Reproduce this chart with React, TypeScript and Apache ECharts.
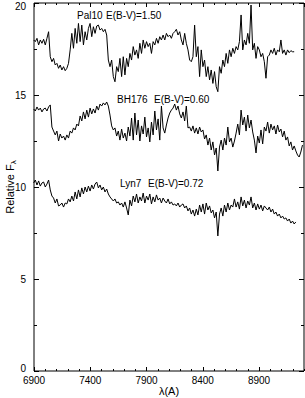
import React, { useEffect, useRef } from "react";
import * as echarts from "echarts";

const LAMBDA_START = 6897;
const LAMBDA_STEP = 14.75;

const X_MIN = 6900;
const X_MAX = 9300;
const Y_MIN = 0;
const Y_MAX = 20;

const pal10 = [
  17.99, 17.9, 18.08, 17.72, 17.99, 17.81, 18.03, 17.72, 18.08, 18.44,
  17.08, 16.81, 16.99, 16.63, 16.72, 16.45, 16.63, 16.36, 16.54, 16.32,
  16.45, 16.72, 17.45, 18.35, 17.54, 18.62, 17.81, 18.89, 17.9, 18.8,
  17.72, 18.44, 17.99, 18.62, 18.89, 18.17, 18.71, 18.35, 18.75, 18.8,
  18.53, 18.62, 18.44, 18.57, 18.26, 16.9, 16.54, 16.9, 16.0, 15.72,
  16.54, 16.27, 16.99, 16.0, 17.08, 16.09, 16.99, 16.54, 17.26, 16.9,
  17.63, 17.17, 17.45, 16.99, 17.81, 17.26, 17.99, 17.54, 17.9, 17.63,
  17.81, 17.26, 17.9, 17.72, 18.08, 17.81, 18.17, 17.99, 18.26, 17.99,
  18.35, 18.17, 18.26, 18.08, 18.35, 18.44, 18.57, 18.26, 18.44, 17.99,
  17.72, 18.35, 17.81, 17.45, 16.9, 16.81, 17.08, 18.8, 17.08, 17.63,
  16.0, 17.45, 16.54, 16.9, 16.0, 16.54, 15.82, 16.36, 15.63, 16.27,
  15.45, 15.18, 16.54, 16.18, 16.9, 16.54, 17.26, 16.72, 17.45, 17.08,
  17.54, 17.26, 17.63, 17.45, 17.9, 19.35, 17.45, 17.99, 17.72, 18.35,
  17.81, 19.89, 17.45, 17.81, 16.99, 17.63, 17.45, 17.08, 17.26, 16.81,
  15.91, 17.08, 17.17, 17.45, 17.26, 17.54, 17.17, 17.45, 17.35, 17.99,
  17.26, 17.45, 17.17, 17.45, 17.3, 17.41, 17.35, 17.35,
];

const bh176 = [
  14.24, 14.13, 14.35, 14.18, 14.29, 14.08, 14.24, 14.29, 14.13, 14.35,
  14.46, 13.26, 13.04, 12.83, 13.04, 12.5, 12.88, 12.66, 12.77, 12.55,
  12.83, 12.66, 13.04, 12.93, 13.21, 13.1, 13.42, 13.32, 13.86, 13.59,
  14.08, 13.7, 14.18, 13.8, 14.29, 13.97, 14.24, 14.02, 14.4, 14.18,
  14.51, 14.4, 14.57, 14.46, 14.62, 14.4, 13.91, 13.32, 13.1, 13.21,
  12.77, 13.04, 12.55, 13.15, 12.66, 12.93, 12.5, 13.26, 12.77, 13.75,
  12.55, 14.02, 12.83, 13.64, 12.5, 13.32, 12.88, 13.8, 12.72, 13.21,
  12.45, 13.53, 12.83, 14.13, 13.1, 13.7, 12.55, 14.4, 13.21, 12.93,
  13.37, 13.75, 14.02, 14.18, 14.29, 14.51, 14.18, 14.4, 13.97, 13.75,
  14.08, 13.59, 14.4, 13.21, 13.26, 13.04, 13.32, 12.93, 13.21, 12.88,
  13.26, 12.99, 13.1, 12.61, 12.83, 12.28, 12.66, 12.01, 12.45, 11.74,
  12.12, 10.87, 12.17, 12.55, 12.01, 12.66, 12.28, 13.26, 12.45, 12.66,
  12.17, 12.5, 12.93, 13.42, 12.83, 14.18, 13.37, 13.8, 13.04, 13.91,
  13.21, 13.64, 12.99, 12.55, 11.85, 12.77, 12.39, 13.1, 12.34, 13.26,
  13.04, 13.53, 12.93, 13.42, 13.1, 13.32, 12.88, 13.37, 12.99, 13.15,
  12.72, 13.04, 12.55, 12.72, 12.23, 12.45, 12.01, 12.23, 11.96, 11.74,
  11.63, 11.9, 12.28,
];

const lyn7 = [
  10.22, 10.38, 10.11, 10.33, 10.05, 10.22, 10.27, 10.0, 10.16, 10.38,
  9.84, 9.51, 9.4, 9.13, 9.35, 8.97, 9.02, 9.13, 8.91, 9.13,
  9.08, 9.35, 9.19, 9.51, 9.24, 9.73, 9.35, 9.84, 9.46, 9.95,
  9.62, 10.0, 9.73, 10.05, 9.78, 10.11, 9.89, 10.16, 10.27, 9.95,
  10.11, 9.84, 10.0, 9.73, 9.89, 9.62, 9.46, 9.35, 9.24, 9.35,
  9.13, 9.19, 9.02, 9.13, 8.91, 9.19, 8.86, 8.48, 9.29, 8.97,
  9.51, 9.19, 9.62, 9.13, 9.46, 9.24, 9.67, 9.13, 9.51, 9.29,
  9.62, 9.08, 9.46, 9.19, 9.57, 9.29, 9.4, 9.13, 9.4, 9.24,
  9.13, 9.35, 9.08, 9.19, 9.02, 9.08, 8.97, 9.13, 8.91, 9.02,
  9.08, 8.86, 8.97, 8.7, 8.86, 8.53, 8.75, 8.42, 8.8, 8.48,
  9.02, 8.64, 9.08, 8.53, 9.13, 8.75, 8.97, 8.59, 8.75, 8.32,
  8.64, 7.34, 8.53, 8.86, 8.42, 9.02, 8.64, 9.13, 8.75, 9.02,
  8.91, 9.35, 8.91, 9.19, 8.8, 9.46, 8.97, 9.29, 8.86, 9.24,
  9.02, 9.46, 8.86, 9.13, 8.75, 9.08, 8.8, 9.02, 8.7, 8.97,
  8.86, 8.75, 8.91, 8.64, 8.8, 8.53, 8.64, 8.42, 8.53, 8.32,
  8.42, 8.26, 8.32, 8.15, 8.26, 8.04, 8.15, 7.99, 8.1,
];

const xTicks = ["6900", "7400", "7900", "8400", "8900"];
const yTicks = ["0", "5", "10", "15", "20"];

const FONT = "'Liberation Sans', Arial, Helvetica, sans-serif";

function toPairs(values: number[]): [number, number][] {
  return values.map((v, i) => [LAMBDA_START + i * LAMBDA_STEP, v]);
}

export default function App() {
  const ref = useRef<HTMLDivElement>(null);

  useEffect(() => {
    if (!ref.current) return;
    const chart = echarts.init(ref.current, null, { renderer: "svg" });

    const black = "#000";
    const xBase = {
      type: "value" as const,
      min: X_MIN,
      max: X_MAX,
      splitLine: { show: false },
      axisLine: { show: false },
    };
    const yBase = {
      type: "value" as const,
      min: Y_MIN,
      max: Y_MAX,
      interval: 5,
      splitLine: { show: false },
      axisLine: { show: false },
      axisTick: { inside: true, length: 5, lineStyle: { color: black, width: 1 } },
      minorTick: { show: true, splitNumber: 2, length: 3, lineStyle: { color: black, width: 1 } },
    };

    const annText = (x: number, y: number, text: string) => ({
      type: "text",
      x,
      y,
      silent: true,
      style: {
        text,
        fill: black,
        font: `10px ${FONT}`,
        verticalAlign: "middle",
        align: "left",
      },
    });

    chart.setOption({
      animation: false,
      backgroundColor: "#fff",
      grid: {
        left: 34,
        right: 1,
        top: 3,
        bottom: 27,
        containLabel: false,
        outerBoundsMode: "none",
        show: true,
        borderColor: black,
        borderWidth: 1,
        backgroundColor: "transparent",
      },
      xAxis: [
        {
          ...xBase,
          position: "bottom",
          interval: 500,
          axisTick: { inside: true, length: 4, lineStyle: { color: black } },
          axisLabel: {
            color: black,
            fontSize: 10,
            fontFamily: FONT,
            margin: 4,
            showMaxLabel: false,
            formatter: (v: number) => {
              const s = String(Math.round(v));
              return xTicks.includes(s) ? s : "";
            },
          },
          name: "λ(A)",
          nameLocation: "middle",
          nameGap: 14,
          nameMoveOverlap: false,
          nameTextStyle: { color: black, fontSize: 11, fontFamily: FONT },
        },
        {
          ...xBase,
          position: "bottom",
          interval: 100,
          axisTick: { inside: true, length: 2, lineStyle: { color: black } },
          axisLabel: { show: false },
        },
        {
          ...xBase,
          position: "top",
          interval: 500,
          axisTick: { inside: true, length: 4, lineStyle: { color: black } },
          axisLabel: { show: false },
        },
        {
          ...xBase,
          position: "top",
          interval: 100,
          axisTick: { inside: true, length: 2, lineStyle: { color: black } },
          axisLabel: { show: false },
        },
      ],
      yAxis: [
        {
          ...yBase,
          position: "left",
          axisLabel: {
            color: black,
            fontSize: 10,
            fontFamily: FONT,
            margin: 8,
            formatter: (v: number) => {
              const s = String(Math.round(v));
              if (!yTicks.includes(s)) return "";
              if (s === "0") return "{z|0}";
              if (s === "20") return "{t|20}";
              return s;
            },
            rich: {
              z: { fontSize: 10, fontFamily: FONT, color: black, padding: [0, 0, 5, 0] },
              t: { fontSize: 10, fontFamily: FONT, color: black, padding: [6, 0, 0, 0] },
            },
          },
          name: "{a|Relative F}{s|λ}",
          nameLocation: "middle",
          nameGap: 17,
          nameMoveOverlap: false,
          nameTextStyle: {
            color: black,
            rich: {
              a: { fontSize: 11, fontFamily: FONT, color: black, verticalAlign: "middle" },
              s: { fontSize: 8, fontFamily: FONT, color: black, verticalAlign: "middle", padding: [6, 0, 0, 0] },
            },
          },
        },
        {
          ...yBase,
          position: "right",
          axisLabel: { show: false },
        },
      ],
      series: [
        { name: "Pal10", data: toPairs(pal10) },
        { name: "BH176", data: toPairs(bh176) },
        { name: "Lyn7", data: toPairs(lyn7) },
      ].map((s) => ({
        ...s,
        type: "line",
        xAxisIndex: 0,
        yAxisIndex: 0,
        showSymbol: false,
        symbol: "none",
        clip: true,
        silent: true,
        lineStyle: { color: black, width: 1 },
      })),
      graphic: [
        annText(77, 15, "Pal10"),
        annText(106, 15, "E(B-V)=1.50"),
        annText(117, 99, "BH176"),
        annText(154, 99, "E(B-V)=0.60"),
        annText(120, 183, "Lyn7"),
        annText(148, 183, "E(B-V)=0.72"),
      ],
    });

    return () => chart.dispose();
  }, []);

  return (
    <div
      ref={ref}
      style={{ position: "absolute", left: 0, top: 0, width: 305, height: 398 }}
    />
  );
}
